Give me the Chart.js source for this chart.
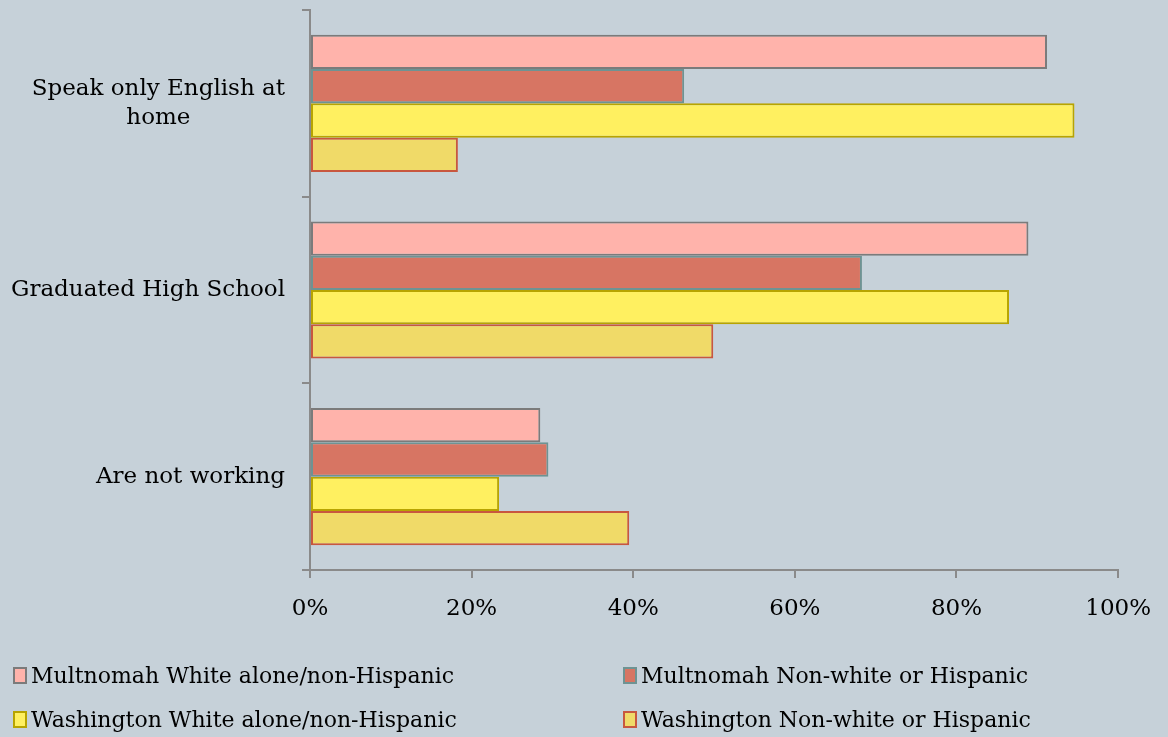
<!DOCTYPE html>
<html>
<head>
<meta charset="utf-8">
<script src="https://cdn.jsdelivr.net/npm/chart.js@4/dist/chart.umd.min.js"></script>
<style>
  html, body { margin: 0; padding: 0; background: #c6d1d9; }
  #wrap { position: relative; width: 1168px; height: 737px; }
  #legend {
    position: absolute; left: 13px; top: 658px; width: 1150px;
    display: grid; grid-template-columns: 610px 540px; row-gap: 10px;
    font-family: "DejaVu Serif", serif; font-size: 22px; color: #000;
  }
  #legend .item { display: flex; align-items: center; height: 34px; white-space: nowrap; }
  #legend .box { width: 10px; height: 13px; margin-right: 4px; border: 2px solid; }
</style>
</head>
<body>
<div id="wrap">
  <canvas id="myChart" width="1168" height="737"></canvas>
  <div id="legend"></div>
</div>
<script>
var categories = [['Speak only English at', 'home'], ['Graduated High School'], ['Are not working']];
var seriesNames = [
  'Multnomah White alone/non-Hispanic',
  'Multnomah Non-white or Hispanic',
  'Washington White alone/non-Hispanic',
  'Washington Non-white or Hispanic'
];
var multWhite = [91.2, 88.9, 28.5];
var multNonWhite = [46.3, 68.3, 29.5];
var washWhite = [94.6, 86.5, 23.4];
var washNonWhite = [18.3, 49.9, 39.5];
var xTicks = [0, 20, 40, 60, 80, 100];

var fills = ['#ffb3ab', '#d77563', '#fff060', '#f0da68'];
var edges = ['#7b7b7b', '#6e9393', '#b8a400', '#c8573f'];
var font = { family: '"DejaVu Serif", serif', size: 23 };
var axisGray = '#8a8a8a';

// category labels: each block right-aligned, lines centred inside the block
var catLabels = {
  id: 'catLabels',
  afterDraw: function (chart) {
    var ctx = chart.ctx, y = chart.scales.y;
    ctx.save();
    ctx.font = font.size + 'px ' + font.family;
    ctx.fillStyle = '#000';
    ctx.textAlign = 'center';
    ctx.textBaseline = 'middle';
    categories.forEach(function (lines, i) {
      var w = Math.max.apply(null, lines.map(function (l) { return ctx.measureText(l).width; }));
      var cx = 285 - w / 2;
      var cy = y.getPixelForTick(i);
      lines.forEach(function (l, j) {
        ctx.fillText(l, cx, cy + (j - (lines.length - 1) / 2) * 29);
      });
    });
    ctx.restore();
  }
};

var datasets = [multWhite, multNonWhite, washWhite, washNonWhite].map(function (d, i) {
  return {
    label: seriesNames[i],
    data: d,
    backgroundColor: fills[i],
    borderColor: edges[i],
    borderWidth: 2,
    borderSkipped: false,
    barPercentage: 1,
    categoryPercentage: 0.735
  };
});

var myChart = new Chart('myChart', {
  type: 'bar',
  data: { labels: categories, datasets: datasets },
  plugins: [catLabels],
  options: {
    indexAxis: 'y',
    responsive: false,
    animation: false,
    layout: { padding: { top: 10, right: 46, bottom: 117, left: 0 } },
    plugins: { legend: { display: false }, tooltip: { enabled: false } },
    scales: {
      x: {
        min: 0, max: 100,
        afterBuildTicks: function (s) { s.ticks = xTicks.map(function (v) { return { value: v }; }); },
        afterFit: function (s) { s.height = 50; },
        border: { color: axisGray, width: 2 },
        grid: { drawOnChartArea: false, color: axisGray, lineWidth: 2, tickLength: 8 },
        ticks: {
          color: '#000', font: font, padding: 17, maxRotation: 0,
          callback: function (v) { return v + '%'; }
        }
      },
      y: {
        afterFit: function (s) { s.width = 310; },
        border: { color: axisGray, width: 2 },
        grid: { drawOnChartArea: false, offset: true, color: axisGray, lineWidth: 2, tickLength: 8 },
        ticks: { display: false }
      }
    }
  }
});

// legend in two fixed columns
var legend = document.getElementById('legend');
myChart.data.datasets.forEach(function (ds) {
  var item = document.createElement('div');
  item.className = 'item';
  var box = document.createElement('span');
  box.className = 'box';
  box.style.background = ds.backgroundColor;
  box.style.borderColor = ds.borderColor;
  item.appendChild(box);
  item.appendChild(document.createTextNode(ds.label));
  legend.appendChild(item);
});
</script>
</body>
</html>
